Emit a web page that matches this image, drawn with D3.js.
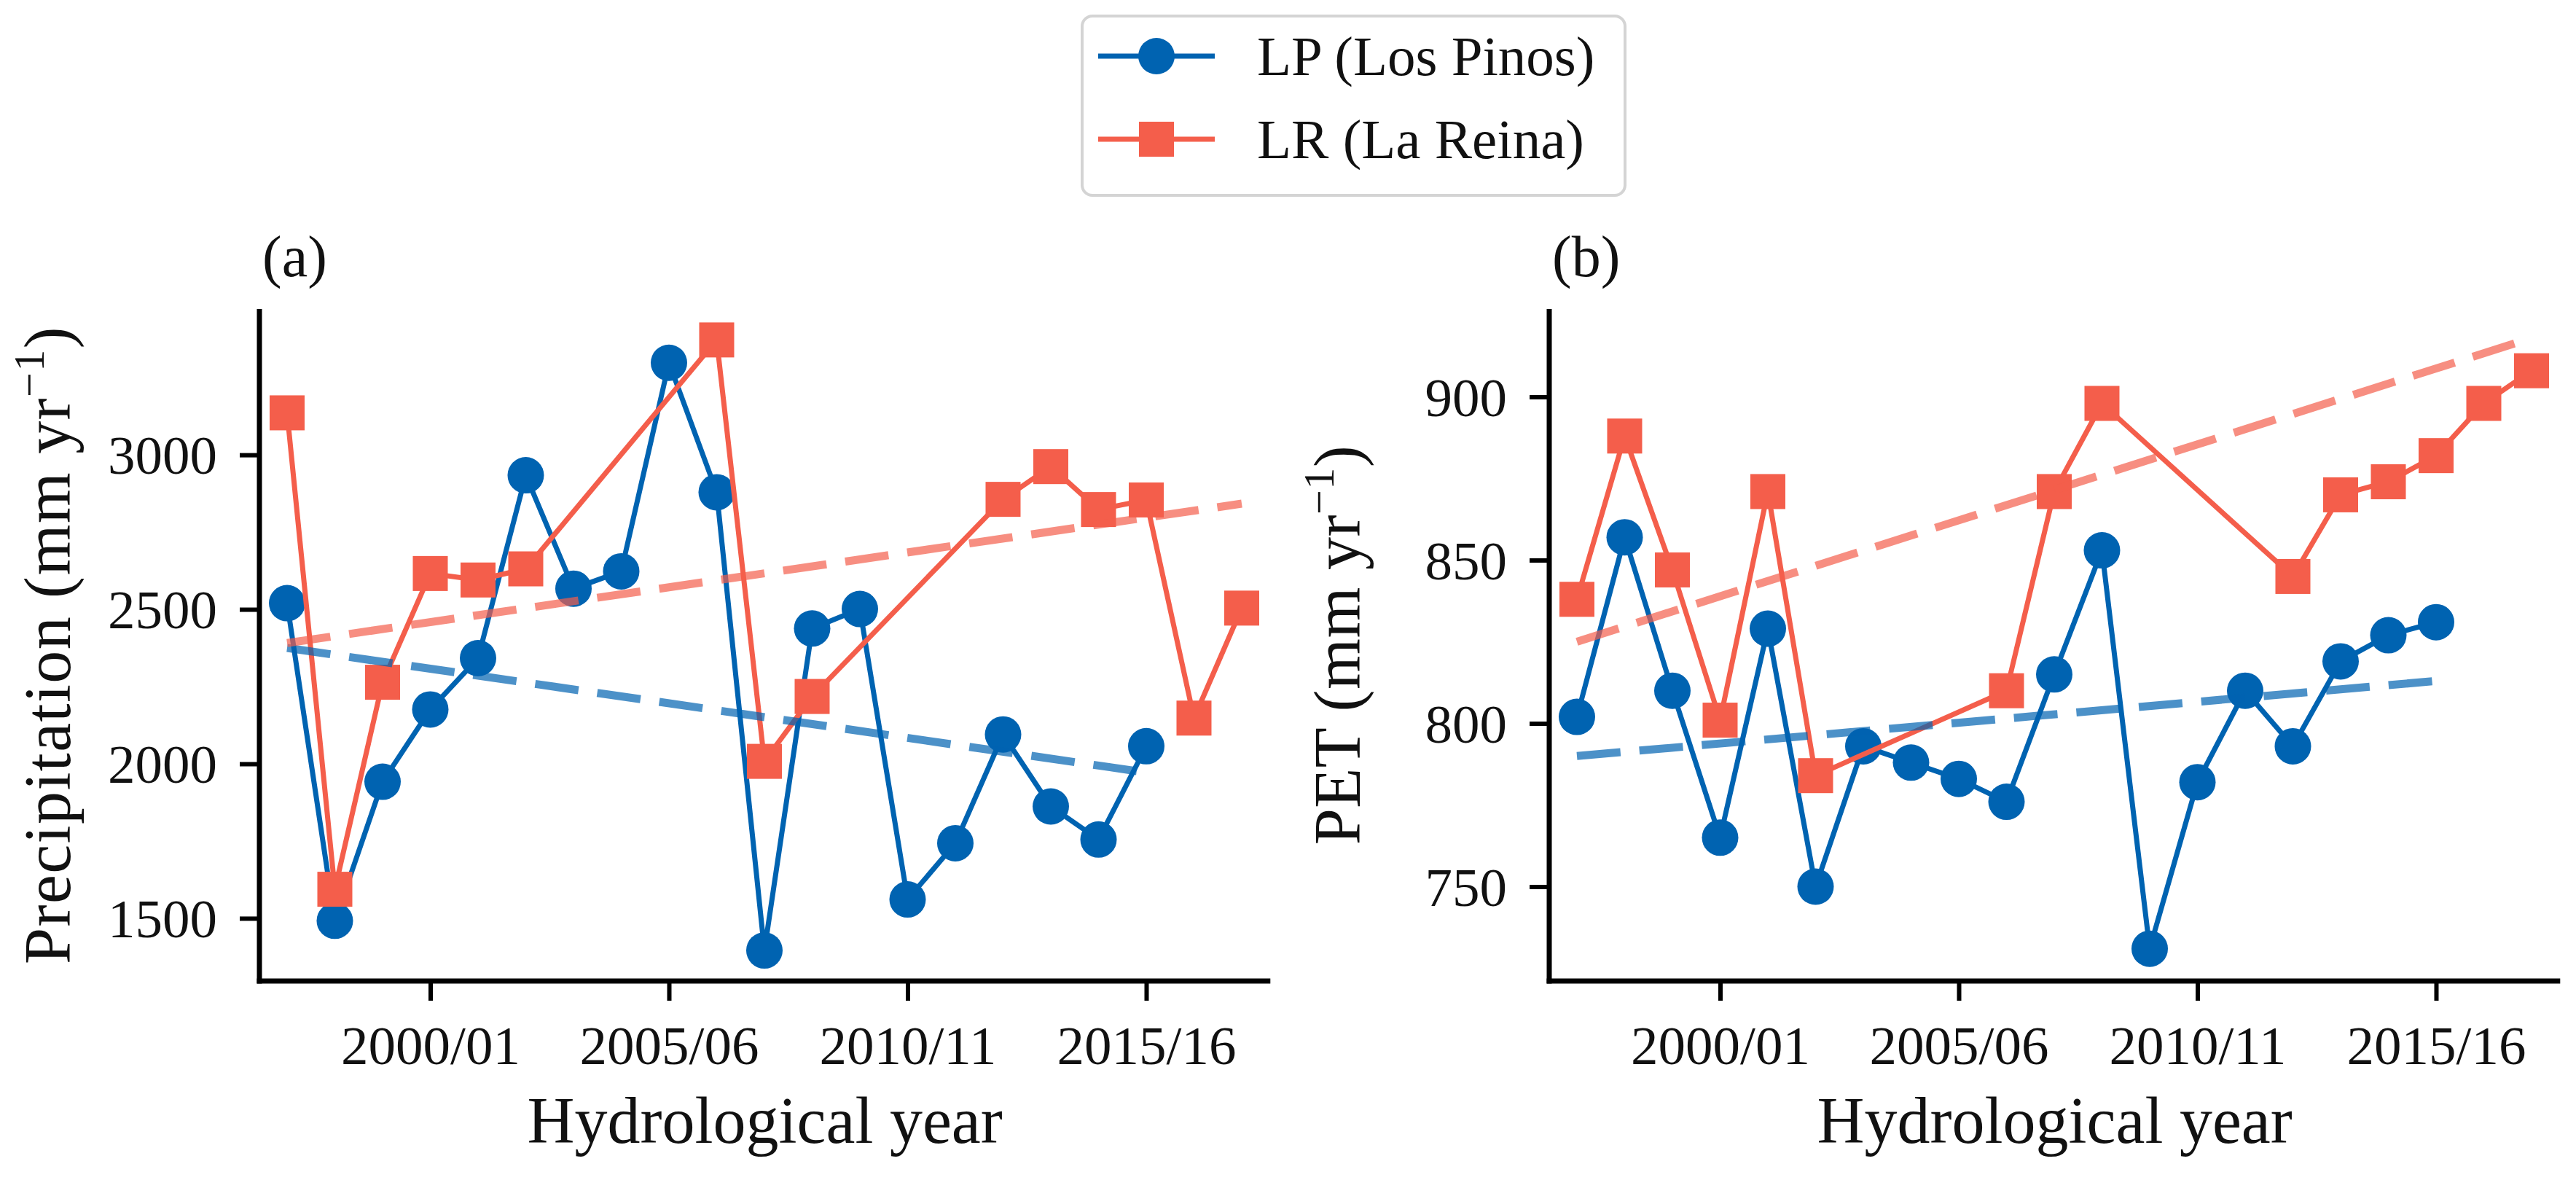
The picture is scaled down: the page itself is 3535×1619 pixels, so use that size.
<!DOCTYPE html>
<html><head><meta charset="utf-8">
<script src="https://cdn.jsdelivr.net/npm/d3@7"></script>
<style>body{margin:0;background:#fff} text{font-family:"Liberation Serif","Times New Roman",serif;fill:#111}</style>
</head><body><svg id="c" width="3535" height="1619"></svg>
<script>
// ---------------- data ----------------
const yearsLP = [1997,1998,1999,2000,2001,2002,2003,2004,2005,2006,2007,2008,2009,2010,2011,2012,2013,2014,2015];
const yearsLR = [1997,1998,1999,2000,2001,2002,2006,2007,2008,2012,2013,2014,2015,2016,2017];
const precipLP = [2520,1492,1942,2176,2342,2934,2567,2623,3298,2879,1396,2438,2501,1561,1743,2095,1862,1755,2057];
const precipLR = [3136,1594,2264,2616,2595,2631,3372,2008,2218,2856,2962,2823,2854,2148,2504];
const petLP = [802,857,810,765,829,750,793,788,783,776,815,853,731,782,810,793,819,827,831];
const petLR = [838,888,847,801,871,784,810,871,898,845,870,874,882,898,908];
const trendYearsLP = [1997,2015];
const trendYearsLR = [1997,2017];
const precipTrendLP = [2375,1972];
const precipTrendLR = [2391,2842];
const petTrendLP = [790,813];
const petTrendLR = [825,918];
const xTickValues = [2000,2005,2010,2015];
const xTickLabels = ["2000/01","2005/06","2010/11","2015/16"];
const precipTicks = [1500,2000,2500,3000];
const petTicks = [750,800,850,900];
const seriesNames = ["LP (Los Pinos)","LR (La Reina)"];

// ---------------- style ----------------
const BLUE = "#0063b1", RED = "#f45e4b";
const svg = d3.select("#c");
svg.append("rect").attr("width",3535).attr("height",1619).attr("fill","#fff");

const plotTop = 424, plotBottom = 1346;
const xDomain = [1996.42, 2017.6];
const panels = [
  {left:356, tag:"(a)", ylabel:"Precipitation (mm yr", yDomain:[1297,3472], ticks:precipTicks,
   lp:precipLP, lr:precipLR, tlp:precipTrendLP, tlr:precipTrendLR, ls:1.4},
  {left:2126, tag:"(b)", ylabel:"PET (mm yr", yDomain:[721.1,926.9], ticks:petTicks,
   lp:petLP, lr:petLR, tlp:petTrendLP, tlr:petTrendLR, ls:0.5}
];
const pxPerYear = 65.5;

panels.forEach(p => {
  const right = p.left + (xDomain[1]-xDomain[0])*pxPerYear;
  const x = d3.scaleLinear().domain(xDomain).range([p.left, right]);
  const y = d3.scaleLinear().domain(p.yDomain).range([plotBottom, plotTop]);
  const g = svg.append("g");

  const xa = g.append("g").attr("transform",`translate(0,${plotBottom})`)
    .call(d3.axisBottom(x).tickValues(xTickValues).tickFormat((d,i)=>xTickLabels[i]).tickSizeOuter(0).tickSize(27).tickPadding(34));
  const ya = g.append("g").attr("transform",`translate(${p.left},0)`)
    .call(d3.axisLeft(y).tickValues(p.ticks).tickFormat(d3.format("d")).tickSizeOuter(0).tickSize(27).tickPadding(31));
  [xa,ya].forEach(a=>{
    a.select(".domain").attr("stroke","#000").attr("stroke-width",7);
    a.selectAll(".tick line").attr("stroke","#000").attr("stroke-width",6);
    a.selectAll(".tick text").attr("font-family","Liberation Serif").attr("font-size",75).attr("fill","#111");
  });
  ya.selectAll(".tick text").attr("dy","0.34em");
  ya.select(".domain").attr("d",`M0,${plotBottom+3.5}V${plotTop}`);
  xa.select(".domain").attr("d",`M${p.left-3.5},0H${right}`);

  const lineLP = d3.line().x((d,i)=>x(yearsLP[i])).y(d=>y(d));
  const lineLR = d3.line().x((d,i)=>x(yearsLR[i])).y(d=>y(d));
  g.append("path").attr("d",lineLP(p.lp)).attr("fill","none").attr("stroke",BLUE).attr("stroke-width",7).attr("stroke-linejoin","round");
  g.selectAll(".mlp").data(p.lp).enter().append("circle")
    .attr("cx",(d,i)=>x(yearsLP[i])).attr("cy",d=>y(d)).attr("r",25).attr("fill",BLUE);
  g.append("path").attr("d",lineLR(p.lr)).attr("fill","none").attr("stroke",RED).attr("stroke-width",7).attr("stroke-linejoin","round");
  g.selectAll(".mlr").data(p.lr).enter().append("rect")
    .attr("x",(d,i)=>x(yearsLR[i])-24).attr("y",d=>y(d)-24).attr("width",48).attr("height",48).attr("fill",RED);

  const tLP = d3.line().x((d,i)=>x(trendYearsLP[i])).y(d=>y(d));
  const tLR = d3.line().x((d,i)=>x(trendYearsLR[i])).y(d=>y(d));
  g.append("path").attr("d",tLP(p.tlp)).attr("fill","none").attr("stroke",BLUE).attr("stroke-opacity",0.7)
    .attr("stroke-width",11).attr("stroke-dasharray","60,26");
  g.append("path").attr("d",tLR(p.tlr)).attr("fill","none").attr("stroke",RED).attr("stroke-opacity",0.7)
    .attr("stroke-width",11).attr("stroke-dasharray","60,26");

  g.append("text").attr("x",p.left+4).attr("y",379).attr("font-size",80).text(p.tag);

  const cx = (p.left+right)/2;
  g.append("text").attr("x",cx).attr("y",1568).attr("text-anchor","middle").attr("font-size",90)
    .text("Hydrological year");
  const yl = g.append("text").attr("transform",`translate(${p.left-260},${(plotTop+plotBottom)/2}) rotate(-90)`)
    .attr("text-anchor","middle").attr("font-size",90).attr("letter-spacing",p.ls);
  yl.append("tspan").text(p.ylabel);
  yl.append("tspan").attr("font-size",60).attr("dy",-36).text("\u22121");
  yl.append("tspan").attr("dy",36).text(")");
});

const lg = svg.append("g");
lg.append("rect").attr("x",1485).attr("y",22).attr("width",745).attr("height",246).attr("rx",14)
  .attr("fill","#fff").attr("stroke","#d4d4d4").attr("stroke-width",4);
const legY = [77,191];
seriesNames.forEach((name,i)=>{
  const c = i===0?BLUE:RED;
  lg.append("line").attr("x1",1507).attr("x2",1667).attr("y1",legY[i]).attr("y2",legY[i]).attr("stroke",c).attr("stroke-width",7);
  if(i===0) lg.append("circle").attr("cx",1587).attr("cy",legY[i]).attr("r",25).attr("fill",c);
  else lg.append("rect").attr("x",1563).attr("y",legY[i]-24).attr("width",48).attr("height",48).attr("fill",c);
  lg.append("text").attr("x",1725).attr("y",legY[i]+26).attr("font-size",77).text(name);
});
</script></body></html>
